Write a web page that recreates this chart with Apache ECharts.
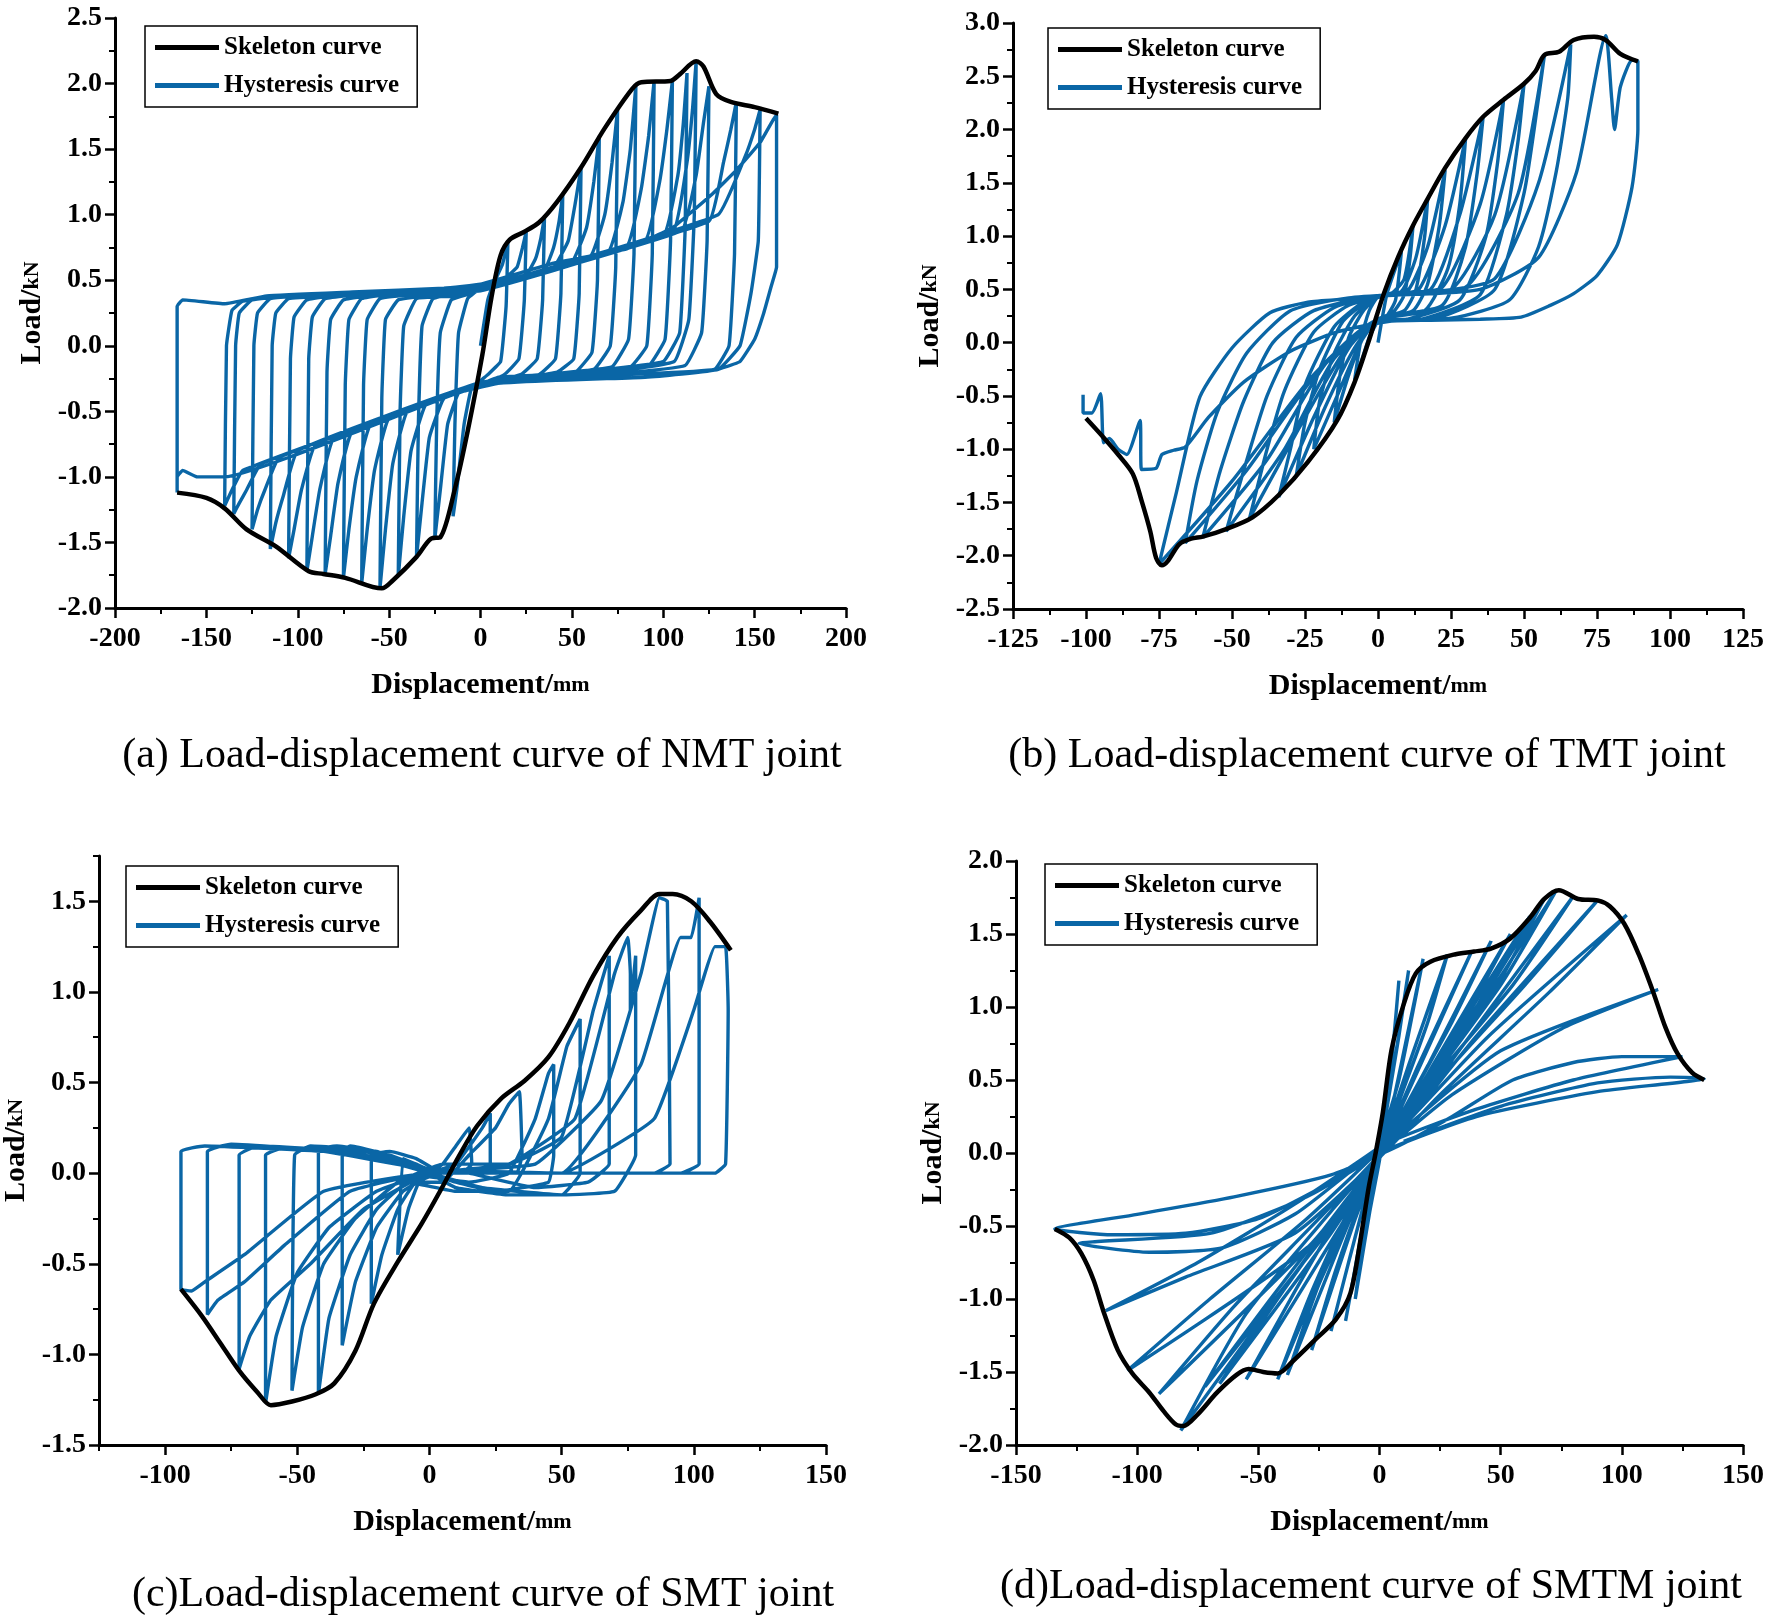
<!DOCTYPE html>
<html>
<head>
<meta charset="utf-8">
<script src="https://cdn.jsdelivr.net/npm/echarts@6.0.0/dist/echarts.min.js"></script>
<style>
html, body { margin: 0; padding: 0; background: #fff; }
#chart { width: 1769px; height: 1624px; }
</style>
</head>
<body>
<div id="chart"></div>
<script>
var FONT = "'Liberation Serif','Times New Roman',serif";
var BLUE = '#0a66a6';

var seriesNames = ['Skeleton curve', 'Hysteresis curve'];
var captions = [
    '(a) Load-displacement curve of NMT joint',
    '(b) Load-displacement curve of TMT joint',
    '(c)Load-displacement curve of SMT joint',
    '(d)Load-displacement curve of SMTM joint'
];

// axis ranges: [min, max, interval]
var xRanges = [[-200, 200, 50], [-125, 125, 25], [-125, 150, 25], [-150, 150, 50]];
var yRanges = [[-2.0, 2.5, 0.5], [-2.5, 3.0, 0.5], [-1.5, 1.75, 0.25], [-2.0, 2.0, 0.5]];

// panel (c) has its own tick positions (axis starts off the 50 grid)
var smtXTicks = [-100, -50, 0, 50, 100, 150];
var smtXMinorTicks = [-125, -75, -25, 25, 75, 125];
var smtYTicks = [-1.5, -1.0, -0.5, 0, 0.5, 1.0, 1.5];
var smtYMinorTicks = [-1.25, -0.75, -0.25, 0.25, 0.75, 1.25, 1.75];

// (a) NMT joint
var nmtSkeleton = [[-166,-1.12],[-150,-1.16],[-140,-1.24],[-128,-1.4],[-112,-1.53],[-94,-1.72],[-86,-1.74],[-74,-1.77],[-54,-1.85],[-48,-1.79],[-35,-1.61],[-27,-1.47],[-22,-1.46],[-14,-1.09],[-7,-0.65],[1,-0.07],[6,0.37],[11,0.69],[16,0.81],[24,0.87],[32,0.94],[42,1.1],[55,1.36],[68,1.66],[83,1.96],[88,2.01],[104,2.02],[109,2.07],[118,2.17],[122,2.13],[129,1.92],[137,1.86],[150,1.82],[163,1.77]];
var nmtHysteresis = [
[0,0],[4,0.35],[8,0.5],[12,0.62],[15,0.8],[14,0.3],[11,-0.12],[4,-0.22],[-5,-0.33],[-9,-0.6],[-13,-1.1],[-15,-1.3],
[-14,-0.6],[-12,0.1],[-7,0.36],[0,0.44],[12,0.5],[20,0.6],[23,0.75],[25,0.87],[24,0.35],[21,-0.1],[13,-0.22],[0,-0.3],[-12,-0.36],[-18,-0.6],[-22,-1.1],[-25,-1.47],
[-24,-0.6],[-22,0.1],[-16,0.35],[-5,0.4],[10,0.48],[25,0.54],[30,0.66],[33,0.82],[35,0.98],[34,0.35],[31,-0.1],[22,-0.22],[0,-0.3],[-20,-0.4],[-28,-0.7],[-32,-1.2],[-35,-1.61],
[-34,-0.6],[-32,0.15],[-26,0.36],[-10,0.4],[10,0.48],[35,0.58],[40,0.75],[43,0.95],[45,1.15],[44,0.4],[41,-0.1],[32,-0.22],[10,-0.24],[-10,-0.35],[-30,-0.45],[-38,-0.8],[-42,-1.3],[-45,-1.76],
[-44,-0.5],[-42,0.15],[-35,0.36],[-15,0.38],[10,0.47],[40,0.6],[48,0.8],[52,1.1],[55,1.36],[54,0.4],[51,-0.1],[42,-0.2],[20,-0.25],[-10,-0.35],[-40,-0.5],[-48,-0.9],[-52,-1.4],[-55,-1.85],
[-54,-0.4],[-52,0.2],[-45,0.35],[-25,0.39],[5,0.45],[50,0.64],[58,0.9],[62,1.25],[65,1.6],[64,0.5],[61,-0.05],[52,-0.2],[25,-0.24],[-10,-0.35],[-50,-0.55],[-58,-0.95],[-62,-1.4],[-65,-1.81],
[-64,-0.3],[-62,0.2],[-55,0.36],[-30,0.4],[0,0.44],[60,0.68],[68,1.0],[72,1.4],[75,1.8],[74,0.6],[71,0.0],[62,-0.18],[30,-0.23],[-5,-0.32],[-60,-0.6],[-68,-1.0],[-72,-1.4],[-75,-1.77],
[-74,-0.3],[-72,0.2],[-65,0.36],[-40,0.41],[0,0.43],[70,0.72],[78,1.1],[82,1.5],[85,1.98],[84,0.7],[81,0.05],[72,-0.16],[35,-0.22],[0,-0.3],[-70,-0.65],[-78,-1.05],[-82,-1.45],[-85,-1.74],
[-84,-0.2],[-82,0.2],[-75,0.35],[-50,0.4],[0,0.42],[80,0.76],[88,1.2],[92,1.6],[95,2.02],[94,0.7],[91,0.0],[82,-0.16],[40,-0.22],[0,-0.3],[-80,-0.7],[-88,-1.1],[-92,-1.45],[-95,-1.72],
[-94,-0.1],[-92,0.22],[-85,0.36],[-60,0.4],[0,0.44],[90,0.8],[98,1.25],[102,1.65],[105,2.02],[104,0.8],[101,0.05],[92,-0.15],[50,-0.2],[0,-0.3],[-90,-0.75],[-98,-1.1],[-102,-1.4],[-105,-1.62],
[-104,-0.1],[-102,0.22],[-95,0.35],[-70,0.4],[0,0.43],[100,0.84],[108,1.3],[111,1.7],[113,2.08],[112,0.9],[109,0.1],[100,-0.12],[55,-0.2],[0,-0.28],[-100,-0.8],[-108,-1.15],[-112,-1.35],[-115,-1.55],
[-114,0.0],[-112,0.25],[-105,0.36],[-80,0.38],[0,0.45],[105,0.86],[113,1.4],[116,1.8],[118,2.17],[117,1.0],[114,0.2],[106,-0.12],[60,-0.22],[0,-0.3],[-110,-0.85],[-118,-1.1],[-122,-1.25],[-125,-1.4],
[-124,0.0],[-122,0.25],[-115,0.36],[-90,0.39],[0,0.44],[110,0.88],[118,1.3],[122,1.7],[125,1.98],[124,0.8],[121,0.1],[112,-0.15],[70,-0.22],[0,-0.3],[-120,-0.9],[-128,-1.1],[-132,-1.2],[-135,-1.28],
[-134,0.0],[-132,0.25],[-125,0.35],[-100,0.38],[0,0.45],[125,0.95],[133,1.4],[137,1.65],[140,1.86],[139,0.7],[136,0.0],[128,-0.18],[80,-0.22],[0,-0.3],[-130,-0.95],[-136,-1.1],[-140,-1.22],
[-139,0.0],[-136,0.27],[-130,0.34],[-110,0.38],[0,0.45],[130,1.0],[145,1.45],[150,1.65],[153,1.8],[152,0.8],[148,0.4],[142,0.0],[130,-0.18],[90,-0.24],[0,-0.3],[-140,-1.0],[-155,-1.0],[-163,-0.95],[-166,-1.0],[-166,-1.12],
[-166,0.3],[-163,0.35],[-140,0.32],[-117,0.38],[-70,0.41],[-20,0.44],[0,0.47],[40,0.63],[80,0.74],[105,0.9],[127,1.16],[140,1.34],[153,1.55],[160,1.72],[162,1.76],[162,0.6],[159,0.45],[155,0.25],[150,0.05],[142,-0.12],[130,-0.18]
];

// (b) TMT joint
var tmtSkeleton = [[-100,-0.71],[-94,-0.89],[-89,-1.05],[-84,-1.23],[-81,-1.48],[-78,-1.77],[-76,-2.02],[-74,-2.09],[-72,-2.05],[-68,-1.89],[-64,-1.84],[-60,-1.82],[-52,-1.75],[-43,-1.64],[-34,-1.43],[-24,-1.12],[-14,-0.73],[-8,-0.37],[-3,0.03],[2,0.46],[7,0.81],[12,1.1],[17,1.35],[23,1.64],[30,1.92],[36,2.12],[43,2.28],[50,2.43],[54,2.55],[57,2.7],[62,2.73],[67,2.84],[74,2.87],[78,2.84],[83,2.71],[89,2.64]];
var tmtHysteresis = [
[0,0],[3,0.45],[6,0.7],[8,0.85],[6,0.4],[3,0.25],[0,0.2],[-3,0.05],[-6,-0.2],[-8,-0.35],
[-6,0.0],[-3,0.3],[0,0.43],[5,0.47],[9,0.6],[12,1.1],
[11,0.8],[9,0.45],[5,0.28],[0,0.22],[-5,0.05],[-10,-0.3],[-15,-0.75],
[-13,-0.3],[-10,0.05],[-5,0.3],[0,0.43],[8,0.48],[13,0.8],[17,1.35],
[16,1.0],[13,0.5],[9,0.3],[0,0.22],[-6,0.0],[-14,-0.5],[-22,-1.0],
[-20,-0.55],[-15,-0.1],[-8,0.25],[0,0.43],[10,0.48],[17,0.9],[23,1.62],
[21,1.1],[17,0.55],[12,0.3],[0,0.22],[-8,-0.05],[-18,-0.6],[-28,-1.25],
[-25,-0.75],[-20,-0.25],[-12,0.2],[-3,0.4],[5,0.45],[14,0.5],[23,1.1],[30,1.92],
[28,1.3],[24,0.7],[16,0.3],[0,0.22],[-10,-0.05],[-22,-0.7],[-34,-1.45],
[-30,-1.0],[-25,-0.4],[-15,0.15],[-5,0.38],[5,0.46],[18,0.5],[28,1.2],[36,2.12],
[34,1.6],[30,0.9],[22,0.35],[0,0.22],[-12,-0.1],[-28,-0.85],[-44,-1.65],
[-38,-1.0],[-32,-0.45],[-22,0.1],[-10,0.35],[5,0.46],[22,0.52],[35,1.3],[43,2.28],
[41,1.7],[37,1.0],[28,0.4],[10,0.22],[0,0.2],[-15,-0.15],[-32,-1.0],[-52,-1.77],
[-46,-1.2],[-38,-0.5],[-28,0.05],[-15,0.33],[0,0.44],[25,0.5],[40,1.2],[50,2.43],
[48,1.9],[44,1.2],[35,0.45],[15,0.22],[0,0.2],[-18,-0.2],[-38,-1.1],[-60,-1.83],
[-54,-1.2],[-46,-0.55],[-36,0.0],[-22,0.3],[0,0.44],[30,0.52],[48,1.4],[57,2.7],
[55,2.3],[50,1.4],[40,0.5],[20,0.23],[0,0.2],[-20,-0.25],[-45,-1.2],[-66,-1.88],
[-62,-1.3],[-55,-0.65],[-45,-0.1],[-30,0.3],[-10,0.42],[20,0.48],[40,0.6],[55,1.5],[66,2.8],
[65,2.3],[61,1.6],[55,0.9],[45,0.4],[25,0.23],[0,0.21],[-22,-0.3],[-50,-1.3],[-75,-2.08],
[-69,-1.4],[-61,-0.51],[-50,-0.05],[-37,0.28],[-24,0.38],[-11,0.41],[2,0.44],[35,0.5],[55,0.8],[68,1.6],[78,2.88],
[80,2.3],[81,2.0],[83,2.4],[87,2.65],[89,2.64],[89,2.0],[87,1.46],[82,0.92],[75,0.63],[67,0.46],[59,0.35],[49,0.24],[35,0.22],[18,0.21],[4,0.2],
[-14,0.1],[-30,-0.08],[-46,-0.37],[-58,-0.7],[-66,-0.98],[-70,-1.01],[-74,-1.05],[-76,-1.18],[-81,-1.19],[-81.5,-0.73],[-86,-1.05],[-89,-1.0],[-92,-0.9],[-94,-0.94],[-95,-0.48],[-98,-0.66],[-101,-0.66],[-101,-0.49]
];

// (c) SMT joint
var smtSkeleton = [[-94,-0.64],[-86,-0.79],[-79,-0.94],[-72,-1.09],[-65,-1.21],[-60,-1.28],[-52,-1.26],[-43,-1.22],[-36,-1.16],[-28,-0.98],[-21,-0.72],[-12,-0.49],[-3,-0.28],[4,-0.1],[11,0.09],[18,0.26],[27,0.41],[36,0.51],[45,0.64],[53,0.83],[62,1.09],[71,1.3],[80,1.45],[87,1.54],[92,1.54],[99,1.5],[106,1.39],[114,1.23]];
var smtHysteresis = [
[0,0],[5,0.05],[10,0.15],[15,0.25],[16,0.05],[12,0.0],[0,0.02],[-5,0.05],[-10,0.08],[-12,-0.45],
[-8,-0.2],[-4,-0.05],[0,0.0],[10,0.05],[20,0.25],[23,0.33],[23,0.05],[20,0.0],[5,0.0],[-5,0.08],[-15,0.12],[-22,0.1],[-22,-0.72],
[-18,-0.45],[-12,-0.2],[-5,-0.05],[5,-0.05],[15,0.1],[25,0.25],[30,0.38],[34,0.45],[35,0.1],[33,0.0],[15,0.0],[0,0.02],[-15,0.1],[-30,0.15],[-33,0.12],[-33,-0.95],
[-28,-0.6],[-20,-0.3],[-10,-0.1],[0,-0.02],[15,-0.05],[30,0.0],[40,0.3],[45,0.55],[47,0.6],[47,0.1],[45,-0.05],[25,-0.1],[10,-0.05],[0,0.0],[-15,0.1],[-35,0.15],[-42,0.13],[-42,-1.22],
[-38,-0.8],[-30,-0.45],[-20,-0.2],[-8,-0.05],[10,-0.1],[30,-0.1],[45,0.3],[52,0.7],[57,0.85],[57,0.0],[50,-0.12],[30,-0.12],[10,-0.08],[0,0.0],[-20,0.12],[-45,0.15],[-51,0.1],[-52,-1.2],
[-48,-0.85],[-40,-0.5],[-28,-0.25],[-12,-0.05],[5,0.05],[30,0.05],[50,0.2],[62,0.9],[68,1.2],[68,0.05],[60,-0.05],[40,-0.08],[15,0.0],[0,0.02],[-25,0.12],[-55,0.14],[-62,0.1],[-62,-1.27],
[-58,-0.9],[-50,-0.55],[-38,-0.3],[-20,-0.1],[0,0.0],[30,0.05],[55,0.3],[70,1.1],[75,1.3],[76,1.1],[76,0.9],[78,1.2],[78,0.1],[70,-0.1],[50,-0.12],[20,-0.08],[0,0.0],[-30,0.12],[-65,0.15],[-72,0.1],[-72,-1.08],
[-68,-0.9],[-60,-0.7],[-45,-0.5],[-25,-0.2],[0,0.0],[40,0.05],[65,0.4],[80,1.1],[87,1.52],[90,1.5],[91,0.05],[85,0.0],[40,0.0],[0,0.02],[-35,0.12],[-75,0.16],[-84,0.12],[-84,-0.78],
[-80,-0.7],[-70,-0.6],[-55,-0.4],[-30,-0.1],[0,0.0],[50,0.0],[80,0.6],[95,1.3],[99,1.3],[102,1.52],[102,0.05],[95,0.0],[50,0.0],[0,0.02],[-40,0.12],[-85,0.15],[-94,0.12],[-94,-0.64],
[-90,-0.65],[-85,-0.6],[-70,-0.45],[-40,-0.1],[0,0.0],[50,0.0],[85,0.3],[100,0.9],[108,1.25],[112,1.25],[113,0.9],[112,0.05],[108,0.0],[60,0.0],[10,0.0]
];

// (d) SMTM joint
var smtmSkeleton = [[-134,-0.52],[-128,-0.58],[-123,-0.69],[-118,-0.87],[-114,-1.08],[-108,-1.35],[-102,-1.51],[-95,-1.64],[-89,-1.77],[-84,-1.86],[-81,-1.87],[-75,-1.79],[-67,-1.64],[-59,-1.52],[-54,-1.48],[-48,-1.5],[-42,-1.51],[-36,-1.43],[-26,-1.27],[-18,-1.14],[-12,-0.96],[-8,-0.61],[-4.5,-0.24],[-1.6,0.0],[1.4,0.28],[5,0.71],[10,1.02],[15,1.23],[21,1.31],[31,1.36],[39,1.38],[46,1.4],[54,1.47],[62,1.61],[68,1.74],[74,1.8],[82,1.74],[90,1.73],[95,1.69],[101,1.57],[107,1.36],[113,1.1],[118,0.86],[123,0.68],[129,0.55],[134,0.5]];
var smtmHysteresis = [
[0,0],[3,0.3],[6,0.8],[8,1.18],[6,0.8],[2,0.2],[0,-0.05],[-4,-0.4],[-8,-0.8],[-10,-1.0],[-6,-0.5],[-2,-0.1],[0,0.05],[5,0.5],[12,1.25],[8,0.8],[3,0.3],[0,0],[-5,-0.35],[-14,-1.15],
[-8,-0.6],[-2,-0.1],[0,0.05],[8,0.5],[18,1.33],[12,0.85],[5,0.3],[0,-0.02],[-8,-0.45],[-20,-1.22],
[-12,-0.7],[-4,-0.2],[2,0.1],[12,0.6],[28,1.36],[20,0.9],[8,0.35],[0,-0.02],[-10,-0.45],[-28,-1.35],
[-18,-0.8],[-6,-0.25],[3,0.1],[16,0.6],[38,1.38],[25,0.9],[10,0.35],[0,-0.02],[-12,-0.45],[-38,-1.52],
[-25,-0.9],[-8,-0.3],[3,0.08],[20,0.6],[46,1.45],[30,0.9],[12,0.35],[0,-0.03],[-15,-0.5],[-42,-1.55],
[-28,-0.95],[-10,-0.3],[4,0.08],[22,0.6],[54,1.5],[36,0.95],[14,0.35],[0,-0.03],[-16,-0.5],[-55,-1.55],
[-35,-0.95],[-12,-0.3],[4,0.08],[25,0.65],[62,1.62],[40,1.0],[15,0.38],[0,-0.03],[-20,-0.55],[-66,-1.58],
[-40,-0.95],[-14,-0.35],[5,0.08],[30,0.72],[68,1.74],[45,1.05],[15,0.38],[0,-0.03],[-22,-0.55],[-72,-1.6],
[-45,-1.0],[-15,-0.35],[5,0.08],[32,0.75],[73,1.8],[50,1.15],[18,0.42],[0,-0.03],[-25,-0.6],[-82,-1.9],
[-55,-1.1],[-20,-0.4],[5,0.08],[35,0.75],[80,1.76],[55,1.15],[20,0.45],[0,-0.03],[-28,-0.62],[-91,-1.65],
[-60,-1.05],[-25,-0.45],[5,0.08],[40,0.8],[90,1.73],[60,1.15],[22,0.45],[0,-0.03],[-30,-0.65],[-104,-1.49],
[-70,-1.0],[-30,-0.45],[5,0.1],[45,0.8],[102,1.63],[70,1.1],[25,0.4],[0,-0.03],[-35,-0.55],[-80,-0.85],[-113,-1.08],
[-75,-0.75],[-35,-0.35],[5,0.1],[50,0.7],[115,1.12],[75,0.85],[30,0.4],[0,0.0],[-30,-0.3],[-70,-0.55],[-124,-0.62],
[-95,-0.68],[-65,-0.65],[-35,-0.42],[-10,-0.1],[5,0.08],[40,0.3],[80,0.5],[125,0.66],[100,0.66],[80,0.62],[55,0.5],[30,0.25],[8,0.05],
[-20,-0.15],[-60,-0.3],[-100,-0.42],[-134,-0.52],[-110,-0.56],[-80,-0.55],[-50,-0.45],[-20,-0.2],[0,0.0],[40,0.25],[90,0.42],[134,0.51],[120,0.52],[90,0.48],[50,0.32],[10,0.08]
];

var skeletons = [nmtSkeleton, tmtSkeleton, smtSkeleton, smtmSkeleton];
var hystereses = [nmtHysteresis, tmtHysteresis, smtHysteresis, smtmHysteresis];
var hystSmooth = [0.1, 0.2, 0.1, 0.2];

var grids = [
    {left: 115, top: 18, width: 731, height: 590},
    {left: 1013, top: 23, width: 730, height: 586},
    {left: 95, top: 856, width: 731, height: 589},
    {left: 1016, top: 861, width: 727, height: 584}
];
var legendPos = [[145, 26], [1048, 28], [126, 866], [1045, 864]];
var captionPos = [[482, 756], [1367, 756], [483, 1595], [1371, 1587]];

var labelStyle = {color: '#000', fontFamily: FONT, fontWeight: 'bold', fontSize: 28};
var lineStyleAxis = {color: '#000', width: 3};
var tickStyle = {color: '#000', width: 2.5};

function nameRich() {
    return {
        rich: {
            a: {fontFamily: FONT, fontWeight: 'bold', fontSize: 30, color: '#000', lineHeight: 34},
            b: {fontFamily: FONT, fontWeight: 'bold', fontSize: 22, color: '#000', lineHeight: 34}
        }
    };
}

function makeXAxis(i) {
    var r = xRanges[i];
    var ax = {
        type: 'value', gridIndex: i, min: r[0], max: r[1], interval: r[2],
        axisLine: {show: true, onZero: false, lineStyle: lineStyleAxis},
        axisTick: {show: true, length: 10, lineStyle: tickStyle},
        minorTick: {show: true, splitNumber: 2, length: 6, lineStyle: {color: '#000', width: 2}},
        splitLine: {show: false},
        axisLabel: Object.assign({margin: 17}, labelStyle),
        name: '{a|Displacement/}{b|mm}', nameLocation: 'middle', nameGap: 60,
        nameTextStyle: nameRich()
    };
    if (i == 2) {
        ax.minorTick = {show: false};
        ax.axisTick.customValues = smtXTicks;
        ax.axisLabel.customValues = smtXTicks;
        ax.axisLabel.formatter = function (v) {
            return v % 50 === 0 ? String(v) : '';
        };
    }
    return ax;
}

function makeYAxis(i) {
    var r = yRanges[i];
    var ax = {
        type: 'value', gridIndex: i, min: r[0], max: r[1], interval: r[2],
        axisLine: {show: true, onZero: false, lineStyle: lineStyleAxis},
        axisTick: {show: true, length: 10, lineStyle: tickStyle},
        minorTick: {show: true, splitNumber: 2, length: 6, lineStyle: {color: '#000', width: 2}},
        splitLine: {show: false},
        axisLabel: Object.assign({margin: 13, formatter: function (v) { return v.toFixed(1); }}, labelStyle),
        name: '{a|Load/}{b|kN}', nameLocation: 'middle', nameGap: 66,
        nameTextStyle: nameRich()
    };
    if (i == 2) {
        ax.minorTick = {show: false};
        ax.axisTick.customValues = smtYTicks;
        ax.axisLabel.customValues = smtYTicks;
        ax.axisLabel.formatter = function (v) {
            return Math.abs(v * 2 - Math.round(v * 2)) < 1e-6 ? v.toFixed(1) : '';
        };
    }
    return ax;
}

var xAxes = [], yAxes = [], series = [], legends = [], graphics = [];
for (var i = 0; i < 4; i++) {
    xAxes.push(makeXAxis(i));
    yAxes.push(makeYAxis(i));
    series.push({
        type: 'line', name: seriesNames[1], xAxisIndex: i, yAxisIndex: i,
        data: hystereses[i], showSymbol: false, symbol: 'none', smooth: hystSmooth[i], z: 2,
        lineStyle: {color: BLUE, width: 3.4}, itemStyle: {color: BLUE}
    });
    series.push({
        type: 'line', name: seriesNames[0], xAxisIndex: i, yAxisIndex: i,
        data: skeletons[i], showSymbol: false, symbol: 'none', smooth: 0.3, z: 3,
        lineStyle: {color: '#000', width: 4.5}, itemStyle: {color: '#000'}
    });
    legends.push({
        orient: 'vertical', left: legendPos[i][0], top: legendPos[i][1],
        data: seriesNames, icon: 'rect', itemWidth: 64, itemHeight: 5, itemGap: 13,
        padding: [9, 18, 9, 10], borderColor: '#000', borderWidth: 1.5, backgroundColor: '#fff',
        selectedMode: false,
        textStyle: {fontFamily: FONT, fontWeight: 'bold', fontSize: 25, color: '#000', lineHeight: 24}
    });
    graphics.push({
        type: 'text', x: captionPos[i][0], y: captionPos[i][1],
        style: {text: captions[i], font: '42px ' + FONT, fill: '#000', align: 'center', verticalAlign: 'middle'}
    });
}

// minor ticks for panel (c), drawn by overlay axes at the grid edges
xAxes.push({
    type: 'value', gridIndex: 2, min: -125, max: 150, position: 'bottom',
    axisLine: {show: false, onZero: false}, splitLine: {show: false}, axisLabel: {show: false},
    axisTick: {show: true, length: 6, customValues: smtXMinorTicks, lineStyle: {color: '#000', width: 2}}
});
yAxes.push({
    type: 'value', gridIndex: 2, min: -1.5, max: 1.75, position: 'left',
    axisLine: {show: false, onZero: false}, splitLine: {show: false}, axisLabel: {show: false},
    axisTick: {show: true, length: 6, customValues: smtYMinorTicks, lineStyle: {color: '#000', width: 2}}
});

var chart = echarts.init(document.getElementById('chart'));
chart.setOption({
    backgroundColor: '#fff',
    animation: false,
    grid: grids,
    xAxis: xAxes,
    yAxis: yAxes,
    legend: legends,
    series: series,
    graphic: graphics
});
</script>
</body>
</html>
